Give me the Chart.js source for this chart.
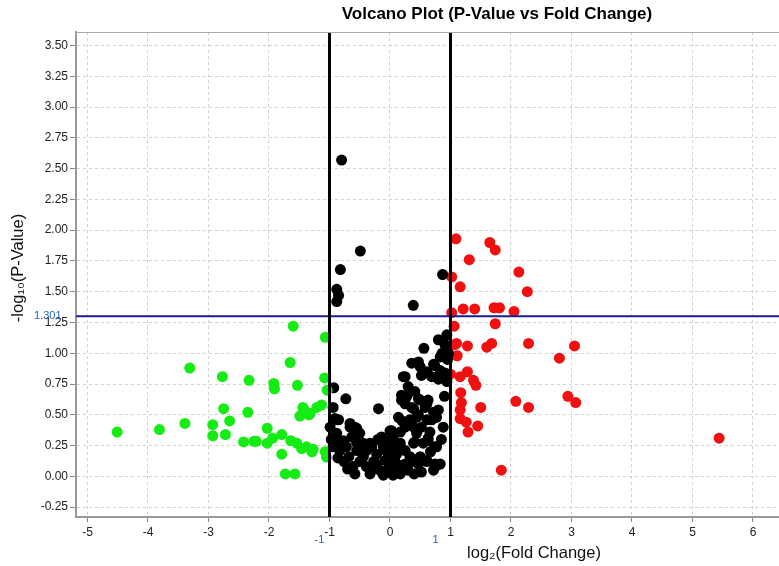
<!DOCTYPE html>
<html><head><meta charset="utf-8">
<script src="https://cdn.jsdelivr.net/npm/chart.js@4/dist/chart.umd.min.js"></script>
<style>html,body{margin:0;padding:0;background:#fff}#wrap{width:779px;height:566px}</style>
</head><body><div id="wrap"><canvas id="c" width="779" height="566"></canvas></div>
<script>
// ---- data (log2 fold change, -log10 p-value) ----
const greenPoints = [[-4.51,0.36],[-3.81,0.38],[-3.39,0.43],[-3.31,0.88],[-2.93,0.42],[-2.93,0.33],[-2.77,0.81],[-2.75,0.55],[-2.65,0.45],[-2.72,0.34],[-2.33,0.78],[-2.35,0.52],[-2.42,0.28],[-2.25,0.285],[-2.21,0.285],[-2.03,0.39],[-2.03,0.27],[-1.92,0.755],[-1.91,0.71],[-1.94,0.31],[-1.79,0.34],[-1.79,0.18],[-1.73,0.02],[-1.57,0.02],[-1.60,1.22],[-1.65,0.925],[-1.53,0.74],[-1.64,0.29],[-1.54,0.27],[-1.49,0.49],[-1.44,0.56],[-1.34,0.50],[-1.46,0.225],[-1.38,0.24],[-1.29,0.20],[-1.27,0.22],[-1.21,0.56],[-1.13,0.58],[-1.07,1.13],[-1.08,0.80],[-1.04,0.70],[-1.07,0.20],[-1.05,0.157],[-1.32,0.51],[-1.40,0.53]];
const blackPoints = [[-0.80,2.57],[-0.49,1.83],[-0.82,1.68],[-0.88,1.52],[-0.85,1.47],[-0.88,1.42],[0.385,1.39],[0.87,1.64],
[-0.93,0.72],[-0.73,0.63],[-0.19,0.55],[-0.94,0.56],
[0.94,1.15],[0.80,1.11],[0.91,1.07],[0.56,1.04],[0.93,1.05],
[0.36,0.92],[0.47,0.93],[0.50,0.89],[0.74,0.90],[0.83,0.86],[0.91,0.84],[0.83,0.97],[0.72,0.91],
[0.22,0.81],[0.25,0.81],[0.52,0.82],[0.61,0.85],[0.69,0.81],[0.80,0.79],[0.88,0.82],[0.94,0.77],
[0.30,0.73],[0.19,0.66],[0.41,0.69],[0.47,0.63],[0.25,0.59],[0.36,0.56],[0.63,0.62],[0.58,0.56],[0.28,0.65],[0.50,0.62],[0.19,0.62],[0.39,0.55],[0.61,0.59],[0.72,0.52],
[0.80,0.54],[0.74,0.50],[0.88,0.40],[0.14,0.48],[0.44,0.48],[0.25,0.40],[0.52,0.40],[0.69,0.46],[0.33,0.46],[0.47,0.50],[0.77,0.48],[0.61,0.46],[0.66,0.36],[0.39,0.40],[0.44,0.35],[0.17,0.36],
[0.63,0.31],[0.77,0.24],[0.41,0.28],[0.03,0.37],[-0.03,0.27],[0.14,0.25],[0.25,0.21],[0.63,0.29],[0.74,0.24],[0.39,0.27],[0.17,0.27],[0.11,0.18],[0.33,0.16],
[0.61,0.13],[0.74,0.10],[0.47,0.10],[0.25,0.08],[0.08,0.16],[-0.03,0.13],[0.08,0.05],[0.77,0.09],[0.83,0.10],[0.61,0.12],[0.50,0.16],[0.25,0.10],[0.05,0.08],[-0.05,0.05],[0.52,0.035],[0.72,0.05],
[-0.99,0.40],[-0.91,0.46],[-0.88,0.35],[-0.83,0.29],[-0.94,0.24],[-0.77,0.24],[-0.66,0.40],[-0.58,0.40],[-0.52,0.35],[-0.63,0.32],[-0.55,0.27],
[-0.44,0.27],[-0.39,0.21],[-0.30,0.24],[-0.22,0.18],[-0.14,0.32],[-0.11,0.24],[-0.03,0.29],[0.05,0.32],[0.08,0.24],
[-0.61,0.08],[-0.58,0.02],[-0.44,0.16],[-0.39,0.08],[-0.33,0.02],[-0.22,0.10],[-0.17,0.05],[-0.08,0.13],[0.00,0.08],[0.05,0.01],[0.17,0.02],[-0.11,0.01],
[-0.91,0.47],[-0.85,0.46],[-0.66,0.43],[-0.55,0.39],[-0.50,0.35],[-0.61,0.32],[-0.91,0.32],[-0.77,0.29],[-0.72,0.24],[-0.55,0.21],[-0.83,0.21],[-0.33,0.27],[0.00,0.37],
[-0.97,0.30],[-0.86,0.15],[-0.76,0.12],[-0.68,0.16],[-0.70,0.06],[-0.50,0.12],[-0.27,0.12],[-0.30,0.05],[0.12,0.10],[0.30,0.05],[0.40,0.02],[0.36,0.12],[-0.20,0.30],[-0.05,0.20],[0.20,0.45],[0.55,0.27],[0.67,0.20],[0.85,0.30],[0.90,0.65],[0.95,0.95],[0.97,1.00],[0.86,1.00]];
const redPoints = [[1.09,1.93],[1.65,1.90],[1.74,1.84],[1.31,1.76],[2.13,1.66],[1.02,1.62],[2.27,1.50],[1.16,1.54],[1.21,1.36],[1.40,1.36],[1.72,1.37],[1.81,1.37],[2.05,1.34],[1.02,1.33],[1.06,1.22],[1.74,1.24],[2.29,1.08],[1.07,1.07],[1.28,1.06],[1.68,1.08],[1.60,1.05],[1.11,0.98],[1.00,0.83],[1.16,0.81],[1.28,0.85],[1.38,0.78],[1.42,0.74],[1.17,0.68],[1.18,0.60],[1.16,0.54],[1.50,0.56],[2.08,0.61],[2.29,0.56],[1.16,0.47],[1.26,0.44],[1.45,0.41],[1.29,0.36],[1.84,0.05],[3.05,1.06],[2.80,0.96],[2.94,0.65],[3.07,0.60],[5.44,0.31],[1.10,1.08]];
const foldCutoffs = [-1, 1];
const pCutoff = [1.301];
const xRange = [-5.19, 6.43];
const yRange = [-0.33, 3.61];

const toXY = a => a.map(p => ({x: p[0], y: p[1]}));
const FONT = "'Liberation Sans', Arial, sans-serif";

const overlay = {
  id: 'overlay',
  afterDraw(chart) {
    const {ctx, chartArea: ca, scales: {x, y}} = chart;
    ctx.save();
    // top frame
    ctx.strokeStyle = '#aaa'; ctx.lineWidth = 1;
    ctx.beginPath(); ctx.moveTo(ca.left, ca.top + 0.5); ctx.lineTo(ca.right, ca.top + 0.5); ctx.stroke();
    // title
    ctx.fillStyle = '#000';
    ctx.font = "bold 17px " + FONT;
    ctx.textAlign = 'center'; ctx.textBaseline = 'middle';
    ctx.fillText('Volcano Plot (P-Value vs Fold Change)', 497, 14);
    // x axis title
    ctx.font = "16.5px " + FONT;
    ctx.fillStyle = '#111';
    ctx.fillText('log\u2082(Fold Change)', 534, 553);
    // y axis title
    ctx.save();
    ctx.translate(18, 268); ctx.rotate(-Math.PI / 2);
    ctx.fillText('-log\u2081\u2080(P-Value)', 0, 0);
    ctx.restore();
    // cutoff labels
    ctx.fillStyle = '#2a62b5';
    ctx.font = "11px " + FONT;
    ctx.textAlign = 'center';
    ctx.fillText(String(foldCutoffs[0]), x.getPixelForValue(foldCutoffs[0]) - 10, 540);
    ctx.fillText(String(foldCutoffs[1]), x.getPixelForValue(foldCutoffs[1]) - 15, 540);
    ctx.textAlign = 'left';
    ctx.fillText(String(pCutoff[0]), 34, y.getPixelForValue(pCutoff[0]));
    ctx.restore();
  }
};

const ptStyle = c => ({type: 'scatter', backgroundColor: c, borderWidth: 0, pointRadius: 5.5, pointHoverRadius: 5.5, order: 2});

new Chart(document.getElementById('c'), {
  type: 'scatter',
  data: {
    datasets: [
      Object.assign({label: 'down', data: toXY(greenPoints)}, ptStyle('#14ec14')),
      Object.assign({label: 'ns', data: toXY(blackPoints)}, ptStyle('#000000')),
      Object.assign({label: 'up', data: toXY(redPoints)}, ptStyle('#f01010')),
      {type: 'line', label: 'fc-', data: [{x: foldCutoffs[0], y: yRange[0]}, {x: foldCutoffs[0], y: yRange[1]}], borderColor: '#000', borderWidth: 3, pointRadius: 0, order: 0},
      {type: 'line', label: 'fc+', data: [{x: foldCutoffs[1], y: yRange[0]}, {x: foldCutoffs[1], y: yRange[1]}], borderColor: '#000', borderWidth: 3, pointRadius: 0, order: 0},
      {type: 'line', label: 'p', data: [{x: xRange[0], y: pCutoff[0]}, {x: xRange[1], y: pCutoff[0]}], borderColor: '#1c1c8f', borderWidth: 2, pointRadius: 0, order: 0}
    ]
  },
  options: {
    responsive: false, animation: false, devicePixelRatio: 1,
    layout: {autoPadding: false, padding: {top: 32, right: 0, left: 0, bottom: 0}},
    plugins: {legend: {display: false}, tooltip: {enabled: false}, title: {display: false}},
    scales: {
      x: {
        type: 'linear', min: xRange[0], max: xRange[1],
        ticks: {stepSize: 1, includeBounds: false, color: '#222', font: {family: FONT, size: 12}, padding: 3, callback: v => String(v)},
        grid: {color: '#d2d2d2', tickColor: '#888', tickLength: 5, tickWidth: 1},
        border: {color: '#999', width: 2, dash: [3, 3]},
        afterFit: s => { s.height = 49; s.paddingLeft = 0; s.paddingRight = 0; }
      },
      y: {
        type: 'linear', min: yRange[0], max: yRange[1],
        ticks: {stepSize: 0.25, includeBounds: false, color: '#222', font: {family: FONT, size: 12}, padding: 2, callback: v => Number(v).toFixed(2)},
        grid: {color: '#d2d2d2', tickColor: '#888', tickLength: 6, tickWidth: 1},
        border: {color: '#999', width: 2, dash: [3, 3]},
        afterFit: s => { s.width = 76; s.paddingTop = 0; s.paddingBottom = 0; }
      }
    }
  },
  plugins: [overlay]
});
</script>
</body></html>
